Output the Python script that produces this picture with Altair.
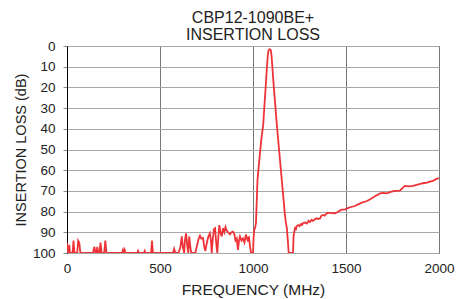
import altair as alt
import pandas as pd

freq = [0, 3, 8, 12, 16, 30, 35, 40, 55, 60, 66, 72, 140, 147, 153, 158, 163, 168, 175, 180,
        186, 200, 206, 212, 296, 301, 306, 310, 315, 378, 382, 386, 414, 418, 422, 452, 457, 462,
        570, 576, 582, 600, 610, 617, 623, 630, 634, 640, 646, 652, 657, 663, 668, 690, 700, 708,
        715, 722, 731, 738, 744, 752, 760, 768, 774, 778, 784, 790, 796, 802, 808, 814, 819, 825,
        832, 839, 846, 852, 858, 866, 876, 885, 892, 900, 906, 913, 919, 925, 930, 938, 946, 954,
        962, 968, 973, 978, 984, 990, 1000, 1003, 1006, 1011, 1016, 1024, 1034, 1045, 1055, 1062,
        1068, 1075, 1080, 1084, 1090, 1096, 1100, 1104, 1112, 1121, 1130, 1140, 1150, 1160, 1170,
        1176, 1182, 1188, 1192, 1215, 1218, 1222, 1226, 1231, 1235, 1243, 1250, 1258, 1263, 1270,
        1280, 1290, 1298, 1306, 1315, 1322, 1333, 1341, 1350, 1360, 1368, 1376, 1385, 1394, 1403,
        1420, 1441, 1455, 1473, 1495, 1510, 1522, 1548, 1565, 1586, 1613, 1630, 1651, 1683, 1700,
        1720, 1740, 1763, 1790, 1805, 1817, 1840, 1860, 1885, 1914, 1935, 1952, 1970, 1984, 2000]
loss = [95, 100, 100, 96, 100, 100, 94, 100, 100, 94, 95, 100, 100, 97, 100, 100, 97, 100, 100, 95,
        100, 100, 94, 100, 100, 98.5, 100, 98.5, 100, 100, 99, 100, 100, 99, 100, 100, 94, 100,
        100, 98, 100, 100, 97, 92, 97, 100, 94, 90.5, 96, 100, 92, 97, 100, 100, 96, 93,
        91.6, 93, 92.7, 97, 99, 95, 92, 90.5, 94, 100, 93, 88.5, 88, 95, 100, 92, 86.5, 90,
        92, 88, 90, 87.5, 89, 90, 91, 90, 89.7, 91, 94, 93, 98.5, 94, 92, 94, 93, 95,
        91, 93, 94.5, 92, 97, 100, 100, 93, 89, 88, 85.5, 65, 55, 45, 38, 28,
        20, 10, 4, 2, 1.5, 2, 5, 10, 20, 30, 40, 50, 60, 70, 80,
        85, 88, 95, 100, 100, 92, 89.7, 88, 88.5, 87, 86.5, 87, 86, 86.5, 85.5,
        85.3, 85.8, 84.5, 85, 84, 84.5, 83.7, 83.2, 83.6, 83.3, 82, 81.6, 82, 81, 80.5,
        80.7, 80.8, 80.2, 79.2, 78.9, 78.3, 77.9, 77.3, 76.5, 75.7, 74.9, 74, 72.8, 71.2, 71,
        71.2, 70.5, 70, 69.9, 68.5, 67.6, 67.8, 67.6, 67, 66.3, 66, 65.5, 65, 64.3, 63.8]

x_ticks = [0, 500, 1000, 1500, 2000]
y_ticks = [0, 10, 20, 30, 40, 50, 60, 70, 80, 90, 100]

df = pd.DataFrame({"f": freq, "loss": loss})

FONT = "Liberation Sans"

chart = alt.Chart(df).mark_line(color="#EE3338", strokeWidth=1.8, clip=True).encode(
    x=alt.X("f:Q",
            scale=alt.Scale(domain=[0, 2000], nice=False),
            axis=alt.Axis(values=x_ticks, format="d", title="FREQUENCY (MHz)", grid=True,
                          gridColor="#777777", gridWidth=1, ticks=False, domain=False,
                          labelPadding=8, labelFontSize=13.5, labelColor="#222222",
                          labelFont=FONT, titleFont=FONT, titleFontSize=15.5,
                          titleFontWeight="normal", titleColor="#222222", titlePadding=8,
                          labelFlush=False)),
    y=alt.Y("loss:Q",
            scale=alt.Scale(domain=[0, 100], reverse=True, nice=False),
            axis=alt.Axis(values=y_ticks, title="INSERTION LOSS (dB)", grid=True,
                          gridColor="#a8a8a8", gridWidth=1, ticks=True, tickSize=4,
                          tickColor="#888888", domain=True, domainColor="#000000",
                          labelPadding=8, labelFontSize=13.5, labelColor="#222222",
                          labelFont=FONT, titleFont=FONT, titleFontSize=14.5,
                          titleFontWeight="normal", titleColor="#222222", titlePadding=4)),
).properties(
    width=372,
    height=207,
    title=alt.TitleParams(text=["CBP12-1090BE+", "INSERTION LOSS"], font=FONT, fontSize=16,
                          fontWeight="normal", color="#222222", anchor="middle",
                          lineHeight=17.5, offset=-4),
    autosize=alt.AutoSizeParams(type="none"),
    padding={"left": 59, "top": 38, "right": 20, "bottom": 46},
).configure_view(stroke="#444444", strokeWidth=1)

chart.save("out.html", embed_options={"renderer": "svg", "actions": False})
